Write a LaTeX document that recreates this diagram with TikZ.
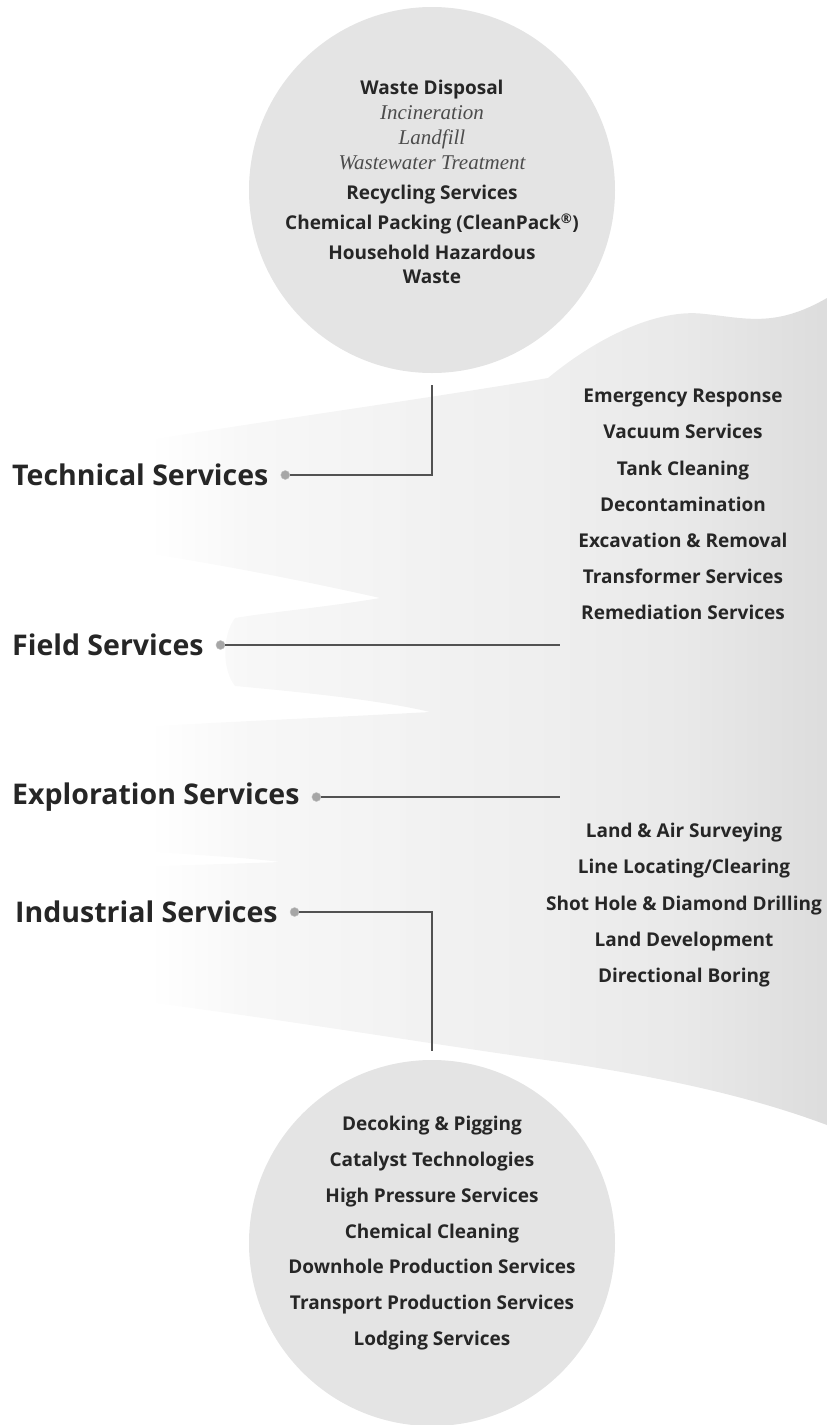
\documentclass[tikz,border=0pt]{standalone}
\usepackage{fontspec}
\setmainfont{Open Sans}
\newfontfamily\seriffont{Liberation Serif}
\usetikzlibrary{positioning,calc}

% light halftone fading from the right side to the left
\pgfdeclarehorizontalshading{fanfade}{100bp}{color(0bp)=(white); color(25bp)=(white); color(34bp)=(white); color(40bp)=(gray!6); color(50bp)=(gray!10); color(58bp)=(gray!13); color(66bp)=(gray!17); color(75bp)=(gray!27); color(100bp)=(gray!27)}

\tikzset{
  bubble/.style={circle,fill=gray!21,minimum size=366pt,inner sep=0pt},
  head/.style={font=\fontsize{28.5}{32}\selectfont\bfseries,text=black!85,inner sep=0pt},
  items/.style={font=\fontsize{19}{36.2}\selectfont\bfseries,align=center,text=black!85,inner sep=0pt},
  pin/.style={circle,fill=gray!70,draw=gray!50,inner sep=0pt,minimum size=9pt},
  link/.style={draw=black!68,line width=1.2pt}
}

\begin{document}
\begin{tikzpicture}[x=1pt,y=-1pt]
\useasboundingbox (0,0) rectangle (827,1425);

\coordinate (rim) at (560,0);

% Define the ribbon with its four fans
\path[shading=fanfade] (827,298) .. controls (775,328) and (745,318) .. (705,314)
  .. controls (660,308) and (600,335) .. (548,378)
  .. controls (420,400) and (200,430) .. (90,450) -- (90,545)
  .. controls (200,560) and (300,580) .. (380,598)
  .. controls (320,608) and (270,612) .. (235,618)
  .. controls (222,635) and (222,670) .. (235,686)
  .. controls (300,692) and (380,700) .. (430,712)
  .. controls (320,718) and (220,722) .. (120,728) -- (120,850)
  .. controls (200,855) and (250,858) .. (280,862)
  .. controls (200,865) and (80,868) .. (0,870) -- (0,985)
  .. controls (200,1005) and (400,1040) .. (560,1062)
  .. controls (680,1080) and (760,1100) .. (827,1125) -- cycle;

% Define the two circles
\node[bubble] (waste) at (432,190) {};
\node[bubble] (indus) at (432,1243) {};

\node[anchor=north,align=center,inner sep=0pt,text=black!85,font=\fontsize{19}{25}\selectfont] (wastelist) at (432,80)
  {\textbf{Waste Disposal}\\ {\fontsize{21}{25}\seriffont\itshape\color{black!70}Incineration}\\ {\fontsize{21}{25}\seriffont\itshape\color{black!70}Landfill}\\ {\fontsize{21}{25}\seriffont\itshape\color{black!70}Wastewater Treatment}\\[5pt]
   \textbf{Recycling Services}\\[5pt] \textbf{Chemical Packing (CleanPack\textsuperscript{®})}\\[5pt] \textbf{Household Hazardous}\\[-1pt] \textbf{Waste}};

\node[items,anchor=north] (fieldlist) at (683,389)
  {Emergency Response\\ Vacuum Services\\ Tank Cleaning\\ Decontamination\\ Excavation \& Removal\\ Transformer Services\\ Remediation Services};

\node[items,anchor=north] (explist) at (684,823)
  {Land \& Air Surveying\\ Line Locating/Clearing\\ Shot Hole \& Diamond Drilling\\ Land Development\\ Directional Boring};

\node[items,anchor=north,font=\fontsize{19}{35.8}\selectfont\bfseries] (induslist) at (432,1116)
  {Decoking \& Pigging\\ Catalyst Technologies\\ High Pressure Services\\ Chemical Cleaning\\ Downhole Production Services\\ Transport Production Services\\ Lodging Services};

% the four headings with their pins
\node[head,anchor=west] (tech) at (12,475) {Technical Services};
\node[head,anchor=west] (field) at (12,645) {Field Services};
\node[head,anchor=west] (expl) at (12,797) {Exploration Services};
\node[head,anchor=west] (ind) at (15,912) {Industrial Services};

\node[pin,right=12pt of tech] (techpin) {};
\node[pin,right=12pt of field] (fieldpin) {};
\node[pin,right=12pt of expl] (explpin) {};
\node[pin,right=12pt of ind] (indpin) {};

\draw[link] (techpin) -- (techpin -| waste) -- ([yshift=-12pt]waste.south);
\draw[link] (fieldpin) -- (fieldpin -| rim);
\draw[link] (explpin) -- (explpin -| rim);
\draw[link] (indpin) -- (indpin -| indus) -- ([yshift=9pt]indus.north);

\end{tikzpicture}
\end{document}
